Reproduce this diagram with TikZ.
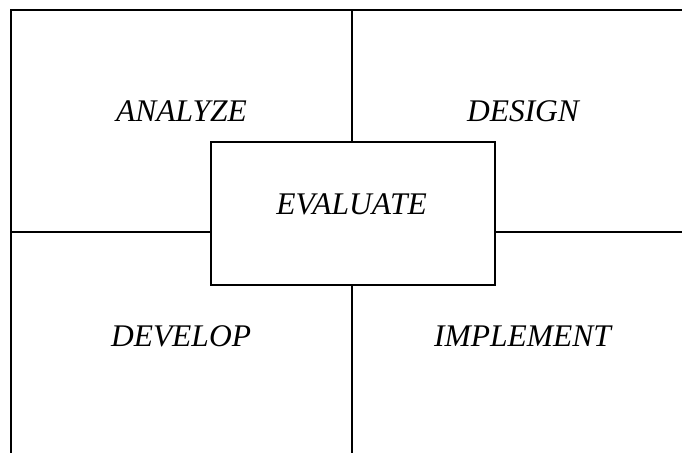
\documentclass[tikz,border=0pt]{standalone}
\usepackage{fontspec}
\setmainfont{Liberation Serif}
\begin{document}
\begin{tikzpicture}[x=1pt,y=-1pt,
  frame/.style={line width=2pt},
  lbl/.style={font=\fontsize{31.5}{36}\selectfont\itshape, anchor=base, inner sep=0pt},
  evalbox/.style={draw, line width=2pt, minimum width=284pt, minimum height=142.4pt, inner sep=0pt}]
\useasboundingbox (0,0) rectangle (682,452);
\node[evalbox] (eval) at (352.7,213.5) {};
\node[lbl] (evtxt) at (351.5,214) {EVALUATE};
\node[lbl] (analyze) at (181.5,121) {ANALYZE};
\node[lbl] (design) at (523,121) {DESIGN};
\node[lbl] (develop) at (181,346) {DEVELOP};
\node[lbl] (implement) at (522.5,346) {IMPLEMENT};
\coordinate (tl) at (10.5,9.7);
\coordinate (tr) at (690,9.7);
\coordinate (bl) at (10.5,460);
\coordinate (tm) at (351.7,9.7);
\coordinate (bm) at (351.7,460);
\coordinate (ml) at (10.5,232.3);
\coordinate (mr) at (690,232.3);
\draw[frame] (bl) -- (tl) -- (tr);
\draw[frame] (tm) -- (tm |- eval.north);
\draw[frame] (bm |- eval.south) -- (bm);
\draw[frame] (ml) -- (ml -| eval.west);
\draw[frame] (mr -| eval.east) -- (mr);
\end{tikzpicture}
\end{document}
